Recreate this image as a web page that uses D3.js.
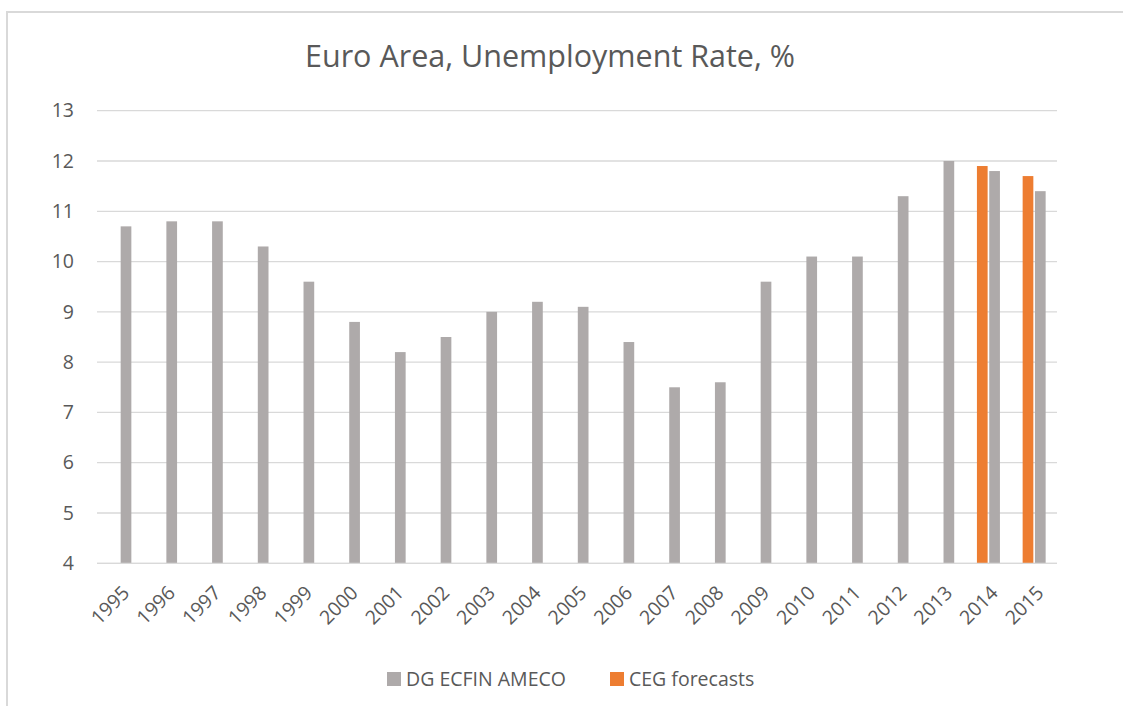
<!DOCTYPE html>
<html>
<head>
<meta charset="utf-8">
<script src="https://cdn.jsdelivr.net/npm/d3@7"></script>
<style>
  body { margin: 0; background: #fff; }
  text { font-family: "Open Sans", sans-serif; fill: #595959; }
</style>
</head>
<body>
<div id="chart"></div>
<script>
const years = ["1995","1996","1997","1998","1999","2000","2001","2002","2003","2004",
  "2005","2006","2007","2008","2009","2010","2011","2012","2013","2014","2015"];
const ameco = [10.7,10.8,10.8,10.3,9.6,8.8,8.2,8.5,9.0,9.2,9.1,8.4,7.5,7.6,9.6,10.1,10.1,11.3,12.0,11.8,11.4];
const ceg = [null,null,null,null,null,null,null,null,null,null,null,null,null,null,null,null,null,null,null,11.9,11.7];
const seriesNames = ["CEG forecasts", "DG ECFIN AMECO"];
const yTicks = [4,5,6,7,8,9,10,11,12,13];

const W = 1123, H = 706;
const margin = { top: 110.7, right: 66, bottom: 142.7, left: 97 },
  width = W - margin.left - margin.right,
  height = H - margin.top - margin.bottom;

const svg = d3.select("#chart").append("svg")
  .attr("width", W).attr("height", H);

// chart frame (runs past the right/bottom edge)
svg.append("rect")
  .attr("x", 7).attr("y", 12)
  .attr("width", W + 20).attr("height", H + 20)
  .attr("fill", "none").attr("stroke", "#d9d9d9").attr("stroke-width", 2);

svg.append("text")
  .attr("x", 550).attr("y", 67)
  .attr("text-anchor", "middle")
  .style("font-size", "30.5px")
  .text("Euro Area, Unemployment Rate, %");

const g = svg.append("g").attr("transform", `translate(${margin.left},${margin.top})`);

const x = d3.scaleBand().domain(years).range([0, width]).padding(0);
const y = d3.scaleLinear().domain([4, 13]).range([height, 0]);

// inner grouping: CEG on the left, AMECO on the right
const groupW = 23;
const x1 = d3.scaleBand().domain(seriesNames).range([0, groupW]).paddingInner(0.13);
const colors = { "DG ECFIN AMECO": "#aeaaaa", "CEG forecasts": "#ed7d31" };

// gridlines
g.append("g")
  .selectAll("line")
  .data(yTicks)
  .join("line")
  .attr("x1", 0).attr("x2", width)
  .attr("y1", d => y(d)).attr("y2", d => y(d))
  .attr("stroke", "#d9d9d9").attr("stroke-width", 1.3);

// y axis labels
const yAxis = g.append("g")
  .call(d3.axisLeft(y).tickValues(yTicks).tickSize(0).tickPadding(23));
yAxis.select(".domain").remove();
yAxis.selectAll("text").style("font-size", "19.5px").attr("fill", "#595959");

const rows = years.map((yr, i) => ({ year: yr, ameco: ameco[i], ceg: ceg[i] }));

const groups = g.append("g").selectAll("g")
  .data(rows)
  .join("g")
  .attr("transform", d => `translate(${x(d.year) + x.bandwidth() / 2 - groupW / 2},0)`);

groups.append("rect")
  .attr("x", x1("DG ECFIN AMECO"))
  .attr("width", x1.bandwidth())
  .attr("y", d => y(d.ameco))
  .attr("height", d => y(4) - y(d.ameco))
  .attr("fill", colors["DG ECFIN AMECO"]);

groups.filter(d => d.ceg != null).append("rect")
  .attr("x", x1("CEG forecasts"))
  .attr("width", x1.bandwidth())
  .attr("y", d => y(d.ceg))
  .attr("height", d => y(4) - y(d.ceg))
  .attr("fill", colors["CEG forecasts"]);

// baseline
g.append("line")
  .attr("x1", 0).attr("x2", width)
  .attr("y1", height).attr("y2", height)
  .attr("stroke", "#d9d9d9").attr("stroke-width", 1.3);

// x axis labels
const xAxis = g.append("g")
  .attr("transform", `translate(0,${height})`)
  .call(d3.axisBottom(x).tickSize(0));
xAxis.select(".domain").remove();
xAxis.selectAll("text")
  .style("font-size", "19.5px")
  .attr("fill", "#595959")
  .attr("text-anchor", "end")
  .attr("dy", "0.35em")
  .attr("transform", "translate(6,26) rotate(-45)")
  .attr("y", 0).attr("x", 0);

// legend
const legendItems = [
  { name: "DG ECFIN AMECO", x: 387 },
  { name: "CEG forecasts", x: 610 }
];
const legend = svg.append("g").selectAll("g")
  .data(legendItems)
  .join("g")
  .attr("transform", d => `translate(${d.x},672)`);
legend.append("rect")
  .attr("width", 14).attr("height", 14)
  .attr("fill", d => colors[d.name]);
legend.append("text")
  .attr("x", 19).attr("y", 7).attr("dy", "0.35em")
  .style("font-size", "19.5px")
  .text(d => d.name);
</script>
</body>
</html>
